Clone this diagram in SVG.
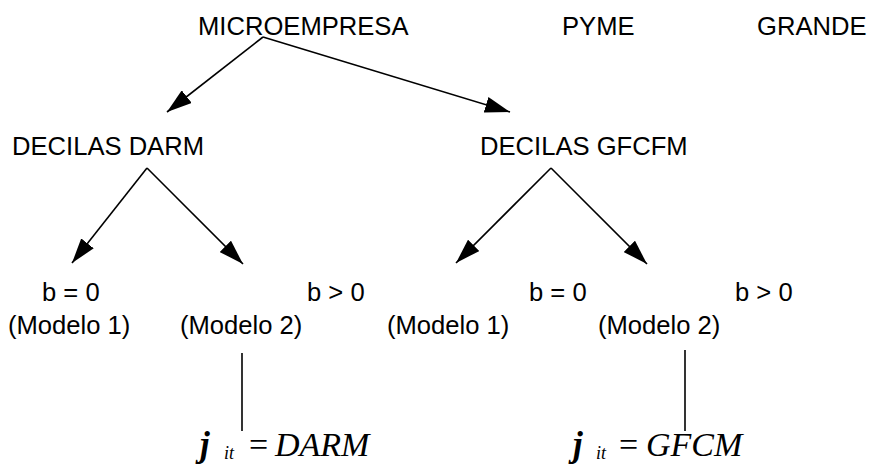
<svg xmlns="http://www.w3.org/2000/svg" width="869" height="470" viewBox="0 0 869 470">
<style>
.t{font-family:"Liberation Sans",Arial,sans-serif;font-size:25.6px;fill:#000}
.m{font-family:"Liberation Serif","Times New Roman",serif;font-style:italic;font-size:34px;fill:#000}
.j{font-weight:bold;font-size:35px}
.s{font-size:18px}
.e{font-style:normal}
.c{stroke:#000;stroke-width:1.6;fill:none}
</style>
<defs>
<marker id="ah" markerUnits="userSpaceOnUse" markerWidth="26" markerHeight="16" refX="25" refY="8" orient="auto">
<path d="M0,0 L25,8 L0,16 Z" fill="#000"/>
</marker>
</defs>
<rect width="869" height="470" fill="#fff"/>
<g id="connectors">
<line class="c" x1="263" y1="37" x2="167" y2="112" marker-end="url(#ah)"/>
<line class="c" x1="263" y1="37" x2="510" y2="112" marker-end="url(#ah)"/>
<line class="c" x1="147" y1="168" x2="72" y2="263" marker-end="url(#ah)"/>
<line class="c" x1="147" y1="168" x2="243" y2="264" marker-end="url(#ah)"/>
<line class="c" x1="551" y1="168" x2="456" y2="263" marker-end="url(#ah)"/>
<line class="c" x1="551" y1="168" x2="647" y2="264" marker-end="url(#ah)"/>
<line class="c" x1="242" y1="353" x2="242" y2="431"/>
<line class="c" x1="685" y1="350" x2="685" y2="431"/>
</g>
<g id="microempresa"><text class="t" x="198" y="35">MICROEMPRESA</text></g>
<g id="pyme"><text class="t" x="562" y="35">PYME</text></g>
<g id="grande"><text class="t" x="757" y="35">GRANDE</text></g>
<g id="decilas-darm"><text class="t" x="12" y="155">DECILAS DARM</text></g>
<g id="decilas-gfcfm"><text class="t" x="480" y="155">DECILAS GFCFM</text></g>
<g id="darm-b0"><text class="t" x="42" y="301">b = 0</text><text class="t" x="8" y="334">(Modelo 1)</text></g>
<g id="darm-b1"><text class="t" x="307" y="301">b &gt; 0</text><text class="t" x="180" y="334">(Modelo 2)</text></g>
<g id="gfcfm-b0"><text class="t" x="529" y="301">b = 0</text><text class="t" x="387" y="334">(Modelo 1)</text></g>
<g id="gfcfm-b1"><text class="t" x="735" y="301">b &gt; 0</text><text class="t" x="598" y="334">(Modelo 2)</text></g>
<g id="formula-darm"><text class="m" y="456"><tspan class="j" x="200">j</tspan><tspan class="s" x="224" y="459">it</tspan><tspan class="e" x="249" y="456">=</tspan><tspan x="275">DARM</tspan></text></g>
<g id="formula-gfcm"><text class="m" y="456"><tspan class="j" x="573">j</tspan><tspan class="s" x="596" y="459">it</tspan><tspan class="e" x="619" y="456">=</tspan><tspan x="646">GFCM</tspan></text></g>
</svg>
